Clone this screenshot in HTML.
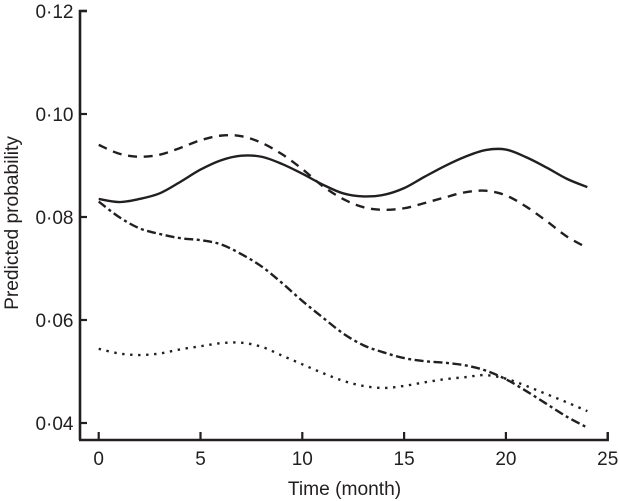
<!DOCTYPE html>
<html>
<head>
<meta charset="utf-8">
<style>
html,body{margin:0;padding:0;background:#fff;}
svg{display:block;}
text{font-family:"Liberation Sans",Arial,sans-serif;fill:#231f20;}
</style>
</head>
<body>
<svg id="chart" width="619" height="501" viewBox="0 0 619 501" xmlns="http://www.w3.org/2000/svg"></svg>
<script>
const months = [0,1,2,3,4,5,6,7,8,9,10,11,12,13,14,15,16,17,18,19,20,21,22,23,24];
const xTicks = [0,5,10,15,20,25];
const yTicks = [0.04,0.06,0.08,0.10,0.12];
const yTickLabels = ['0·04','0·06','0·08','0·10','0·12'];
const solidValues = [0.0835,0.0829,0.0835,0.0846,0.0868,0.0892,0.0910,0.0919,0.0917,0.0903,0.0884,0.0863,0.0846,0.0840,0.0843,0.0856,0.0878,0.0899,0.0917,0.0930,0.0931,0.0916,0.0896,0.0874,0.0858];
const dashedValues = [0.0940,0.0923,0.0917,0.0921,0.0934,0.0949,0.0958,0.0957,0.0944,0.0922,0.0893,0.0860,0.0835,0.0819,0.0814,0.0817,0.0827,0.0838,0.0848,0.0851,0.0842,0.0820,0.0792,0.0762,0.0740];
const dashDotValues = [0.0830,0.0800,0.0778,0.0767,0.0759,0.0755,0.0747,0.0728,0.0704,0.0672,0.0637,0.0605,0.0574,0.0551,0.0537,0.0526,0.0520,0.0517,0.0512,0.0502,0.0485,0.0462,0.0437,0.0412,0.0391];
const dottedValues = [0.0544,0.0535,0.0532,0.0535,0.0543,0.0549,0.0555,0.0556,0.0548,0.0531,0.0514,0.0497,0.0482,0.0472,0.0468,0.0472,0.0479,0.0485,0.0489,0.0493,0.0486,0.0472,0.0456,0.0440,0.0423];

const NS = 'http://www.w3.org/2000/svg';
const svg = document.getElementById('chart');
const ink = '#231f20';
function xScale(v){ return 98.7 + v * 20.36; }
function yScale(v){ return 423 - (v - 0.04) * 5150; }
function make(tag, attrs, parent){
  const el = document.createElementNS(NS, tag);
  for (const k in attrs) el.setAttribute(k, attrs[k]);
  (parent || svg).appendChild(el);
  return el;
}
function smoothPath(xs, ys){
  const p = xs.map((x, i) => [xScale(x), yScale(ys[i])]);
  let d = 'M' + p[0][0].toFixed(2) + ' ' + p[0][1].toFixed(2);
  for (let i = 0; i < p.length - 1; i++){
    const a = p[Math.max(i - 1, 0)], b = p[i], c = p[i + 1], e = p[Math.min(i + 2, p.length - 1)];
    const c1x = b[0] + (c[0] - a[0]) / 6, c1y = b[1] + (c[1] - a[1]) / 6;
    const c2x = c[0] - (e[0] - b[0]) / 6, c2y = c[1] - (e[1] - b[1]) / 6;
    d += 'C' + c1x.toFixed(2) + ' ' + c1y.toFixed(2) + ' ' + c2x.toFixed(2) + ' ' + c2y.toFixed(2) + ' ' + c[0].toFixed(2) + ' ' + c[1].toFixed(2);
  }
  return d;
}

const yAxis = make('path', {d:'M87 ' + yScale(0.12) + 'H80V440', fill:'none', stroke:ink, 'stroke-width':2.6});



const xAxis = make('path', {d:'M79 440H' + xScale(25) + 'V432', fill:'none', stroke:ink, 'stroke-width':2.4});



xTicks.forEach(function(t){
  const tick = make('line', {x1:xScale(t), x2:xScale(t), y1:432, y2:440, stroke:ink, 'stroke-width':2.2});
  
  
  const label = make('text', {x:xScale(t), y:465, 'text-anchor':'middle', 'font-size':19});
  label.textContent = String(t);
  
  
});

yTicks.forEach(function(t, i){
  const tick = make('line', {x1:80, x2:87, y1:yScale(t), y2:yScale(t), stroke:ink, 'stroke-width':2.2});
  
  
  const label = make('text', {x:73.5, y:yScale(t) + 6.8, 'text-anchor':'end', 'font-size':19});
  label.textContent = yTickLabels[i];
  
  
});

const xTitle = make('text', {x:344.5, y:495, 'text-anchor':'middle', 'font-size':19.2});
xTitle.textContent = 'Time (month)';



const yTitle = make('text', {x:0, y:0, transform:'translate(18 223) rotate(-90)', 'text-anchor':'middle', 'font-size':19.2});
yTitle.textContent = 'Predicted probability';



const solidLine = make('path', {d:smoothPath(months, solidValues), fill:'none', stroke:ink, 'stroke-width':2.4});



const dashedLine = make('path', {d:smoothPath(months, dashedValues), fill:'none', stroke:ink, 'stroke-width':2.4, 'stroke-dasharray':'9 6.7'});



const dashDotLine = make('path', {d:smoothPath(months, dashDotValues), fill:'none', stroke:ink, 'stroke-width':2.4, 'stroke-dasharray':'9 3.5 3 3.5'});



const dottedLine = make('path', {d:smoothPath(months, dottedValues), fill:'none', stroke:ink, 'stroke-width':2.4, 'stroke-dasharray':'2.4 5.6'});


</script>
</body>
</html>
